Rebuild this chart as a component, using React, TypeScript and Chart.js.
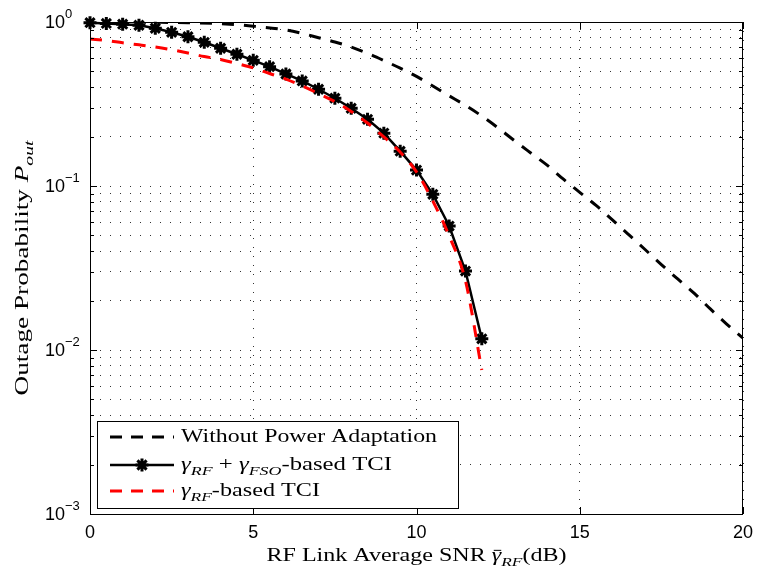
import React, { useEffect, useRef } from "react";
import { Chart, registerables } from "chart.js";

Chart.register(...registerables);

// ---------- data ----------
const snrNoAdapt = [0, 1, 2, 3, 4, 5, 6, 6.5, 7, 7.5, 8, 8.5, 9, 9.5, 10, 10.5, 11, 11.5, 12, 12.5, 13, 13.5, 14, 14.5, 15, 15.5, 16, 16.5, 17, 17.5, 18, 18.5, 19, 19.5, 20];
const poutNoAdapt = [0.9999, 0.999, 0.996, 0.99, 0.976, 0.943, 0.894, 0.852, 0.802, 0.755, 0.704, 0.644, 0.582, 0.523, 0.466, 0.407, 0.355, 0.31, 0.267, 0.226, 0.189, 0.159, 0.134, 0.11, 0.0915, 0.0761, 0.0621, 0.0505, 0.041, 0.0332, 0.0271, 0.0222, 0.0178, 0.0144, 0.0118];

const snrTci = [0, 0.5, 1, 1.5, 2, 2.5, 3, 3.5, 4, 4.5, 5, 5.5, 6, 6.5, 7, 7.5, 8, 8.5, 9, 9.5, 10, 10.5, 11, 11.5, 12];
const poutRfFso = [0.99, 0.98, 0.97, 0.955, 0.916, 0.865, 0.813, 0.752, 0.692, 0.636, 0.584, 0.534, 0.482, 0.437, 0.389, 0.343, 0.298, 0.255, 0.21, 0.163, 0.125, 0.089, 0.057, 0.0303, 0.0117];
const poutRf = [0.788, 0.771, 0.747, 0.726, 0.704, 0.678, 0.647, 0.616, 0.591, 0.558, 0.525, 0.485, 0.449, 0.407, 0.366, 0.327, 0.285, 0.242, 0.199, 0.161, 0.122, 0.081, 0.0496, 0.0264, 0.00755];

const xTickValues = [0, 5, 10, 15, 20];
const yMajorExponents = [0, -1, -2, -3];
const yGridValues = [
  0.001, 0.002, 0.003, 0.004, 0.005, 0.006, 0.007, 0.008, 0.009,
  0.01, 0.02, 0.03, 0.04, 0.05, 0.06, 0.07, 0.08, 0.09,
  0.1, 0.2, 0.3, 0.4, 0.5, 0.6, 0.7, 0.8, 0.9, 1,
];

const legendLabels = ["Without Power Adaptation", "γRF + γFSO-based TCI", "γRF-based TCI"];

// ---------- rich text helper ----------
type Seg = { t: string; it?: boolean; sub?: boolean; bar?: boolean };
const SERIF = '"Liberation Serif", "Times New Roman", serif';

function drawRich(
  ctx: CanvasRenderingContext2D,
  segs: Seg[],
  x: number,
  y: number,
  size: number,
  align: "left" | "center",
  fit?: number
) {
  const fontOf = (s: Seg) => `${s.it ? "italic " : ""}${s.sub ? Math.round(size * 0.7) : size}px ${SERIF}`;
  let w = 0;
  const ws = segs.map((s) => {
    ctx.font = fontOf(s);
    const m = ctx.measureText(s.t).width;
    w += m;
    return m;
  });
  const sx = fit ? fit / w : 1;
  ctx.save();
  ctx.translate(x, y);
  ctx.scale(sx, 1);
  ctx.textAlign = "left";
  ctx.textBaseline = "alphabetic";
  let cx = align === "center" ? -w / 2 : 0;
  segs.forEach((s, i) => {
    ctx.font = fontOf(s);
    ctx.fillText(s.t, cx, s.sub ? size * 0.3 : 0);
    if (s.bar) ctx.fillRect(cx + 1.5, -size * 0.62, ws[i] - 1.5, 1);
    cx += ws[i];
  });
  ctx.restore();
}

function drawStar(ctx: CanvasRenderingContext2D, x: number, y: number, r: number) {
  ctx.beginPath();
  for (let k = 0; k < 4; k++) {
    const a = (k * Math.PI) / 4;
    ctx.moveTo(x + Math.cos(a) * r, y + Math.sin(a) * r);
    ctx.lineTo(x - Math.cos(a) * r, y - Math.sin(a) * r);
  }
  ctx.stroke();
}

const decoPlugin = {
  id: "deco",
  afterDatasetsDraw(chart: any) {
    const { ctx, chartArea, scales } = chart;
    const { left, right, top, bottom } = chartArea;
    const xs = scales.x;
    const ys = scales.y;
    ctx.save();
    ctx.strokeStyle = "#000";
    ctx.fillStyle = "#000";
    ctx.lineWidth = 1;
    ctx.setLineDash([]);

    // inner ticks
    ctx.beginPath();
    xTickValues.forEach((v) => {
      const px = Math.round(xs.getPixelForValue(v)) + 0.5;
      ctx.moveTo(px, bottom);
      ctx.lineTo(px, bottom - 7);
      ctx.moveTo(px, top);
      ctx.lineTo(px, top + 7);
    });
    yGridValues.forEach((v) => {
      const py = Math.round(ys.getPixelForValue(v)) + 0.5;
      const isMajor = yMajorExponents.some((e) => Math.abs(Math.pow(10, e) - v) < 1e-9);
      const len = isMajor ? 7 : 4;
      ctx.moveTo(left, py);
      ctx.lineTo(left + len, py);
      ctx.moveTo(right, py);
      ctx.lineTo(right - len, py);
    });
    ctx.stroke();

    // frame
    ctx.strokeRect(left + 0.5, top + 0.5, right - left - 1, bottom - top);

    // x tick labels
    ctx.font = '18px "Liberation Sans", Arial, sans-serif';
    ctx.textAlign = "center";
    ctx.textBaseline = "top";
    xTickValues.forEach((v) => {
      ctx.fillText(String(v), xs.getPixelForValue(v), bottom + 10);
    });

    // y tick labels
    yMajorExponents.forEach((e) => {
      const py = ys.getPixelForValue(Math.pow(10, e));
      ctx.textAlign = "left";
      ctx.textBaseline = "middle";
      ctx.font = '18px "Liberation Sans", Arial, sans-serif';
      const x0 = left - 45;
      ctx.fillText("10", x0, py + 1);
      const w10 = ctx.measureText("10").width;
      ctx.font = '13px "Liberation Sans", Arial, sans-serif';
      ctx.fillText(e === 0 ? "0" : "\u2212" + String(-e), x0 + w10, py - 8);
    });

    // legend
    const lx0 = 97.5, ly0 = 421.5, lx1 = 458.5, ly1 = 508.5;
    ctx.fillStyle = "#fff";
    ctx.fillRect(lx0, ly0, lx1 - lx0, ly1 - ly0);
    ctx.strokeStyle = "#000";
    ctx.lineWidth = 1;
    ctx.strokeRect(lx0, ly0, lx1 - lx0, ly1 - ly0);
    const rows = [437, 465, 491];
    ctx.lineWidth = 3;
    ctx.setLineDash([12, 9]);
    ctx.strokeStyle = "#000";
    ctx.beginPath();
    ctx.moveTo(110, rows[0]);
    ctx.lineTo(174, rows[0]);
    ctx.stroke();
    ctx.setLineDash([]);
    ctx.lineWidth = 2.5;
    ctx.beginPath();
    ctx.moveTo(110, rows[1]);
    ctx.lineTo(174, rows[1]);
    ctx.stroke();
    ctx.lineWidth = 3;
    drawStar(ctx, 142, rows[1], 6.5);
    ctx.setLineDash([12, 9]);
    ctx.strokeStyle = "#ff0000";
    ctx.beginPath();
    ctx.moveTo(110, rows[2]);
    ctx.lineTo(174, rows[2]);
    ctx.stroke();
    ctx.setLineDash([]);

    ctx.fillStyle = "#000";
    drawRich(ctx, [{ t: legendLabels[0] }], 181, rows[0] + 5, 18, "left", 256);
    drawRich(
      ctx,
      [
        { t: "γ", it: true },
        { t: "RF", it: true, sub: true },
        { t: " + " },
        { t: "γ", it: true },
        { t: "FSO", it: true, sub: true },
        { t: "-based TCI" },
      ],
      181,
      rows[1] + 5,
      18,
      "left",
      211
    );
    drawRich(
      ctx,
      [{ t: "γ", it: true }, { t: "RF", it: true, sub: true }, { t: "-based TCI" }],
      181,
      rows[2] + 5,
      18,
      "left",
      139
    );

    drawRich(
      ctx,
      [{ t: "RF Link Average SNR " }, { t: "γ", it: true, bar: true }, { t: "RF", it: true, sub: true }, { t: "(dB)" }],
      (left + right) / 2,
      561,
      18,
      "center",
      300
    );
    ctx.save();
    ctx.translate(28, (top + bottom) / 2);
    ctx.rotate(-Math.PI / 2);
    drawRich(ctx, [{ t: "Outage Probability " }, { t: "P", it: true }, { t: "out", it: true, sub: true }], 0, 0, 18, "center", 255);
    ctx.restore();

    ctx.restore();
  },
};

export default function App() {
  const ref = useRef<HTMLCanvasElement | null>(null);
  useEffect(() => {
    if (!ref.current) return;
    const chart = new Chart(ref.current, {
      type: "line",
      data: {
        datasets: [
          {
            label: legendLabels[2],
            data: snrTci.map((x, i) => ({ x, y: poutRf[i] })),
            borderColor: "#ff0000",
            borderWidth: 3,
            borderDash: [12, 10],
            pointRadius: 0,
            cubicInterpolationMode: "monotone",
            order: 0,
          },
          {
            label: legendLabels[1],
            data: snrTci.map((x, i) => ({ x, y: poutRfFso[i] })),
            borderColor: "#000",
            borderWidth: 2.5,
            pointStyle: "star",
            pointRadius: 6.5,
            pointBorderWidth: 3,
            pointBorderColor: "#000",
            pointBackgroundColor: "#000",
            clip: false as any,
            order: 1,
          },
          {
            label: legendLabels[0],
            data: snrNoAdapt.map((x, i) => ({ x, y: poutNoAdapt[i] })),
            borderColor: "#000",
            borderWidth: 3,
            borderDash: [12, 10],
            pointRadius: 0,
            cubicInterpolationMode: "monotone",
            order: 2,
          },
        ],
      },
      options: {
        responsive: false,
        animation: false,
        events: [],
        layout: { padding: { left: 90, right: 14, top: 22, bottom: 55 } },
        plugins: { legend: { display: false }, tooltip: { enabled: false } },
        scales: {
          x: {
            type: "linear",
            min: 0,
            max: 20,
            afterBuildTicks: (s: any) => {
              s.ticks = xTickValues.map((v) => ({ value: v }));
            },
            ticks: { display: false },
            grid: { color: "#333", lineWidth: 1, drawTicks: false },
            border: { display: false, dash: [1, 8] },
          },
          y: {
            type: "logarithmic",
            min: 0.001,
            max: 1,
            afterBuildTicks: (s: any) => {
              s.ticks = yGridValues.map((v) => ({ value: v }));
            },
            ticks: { display: false },
            grid: { color: "#333", lineWidth: 1, drawTicks: false },
            border: { display: false, dash: [1, 9] },
          },
        },
      },
      plugins: [decoPlugin],
    });
    return () => chart.destroy();
  }, []);

  return (
    <div style={{ position: "absolute", left: 0, top: 0, width: 757, height: 569, background: "#fff" }}>
      <canvas ref={ref} width={757} height={569} style={{ display: "block", width: 757, height: 569 }} />
    </div>
  );
}
